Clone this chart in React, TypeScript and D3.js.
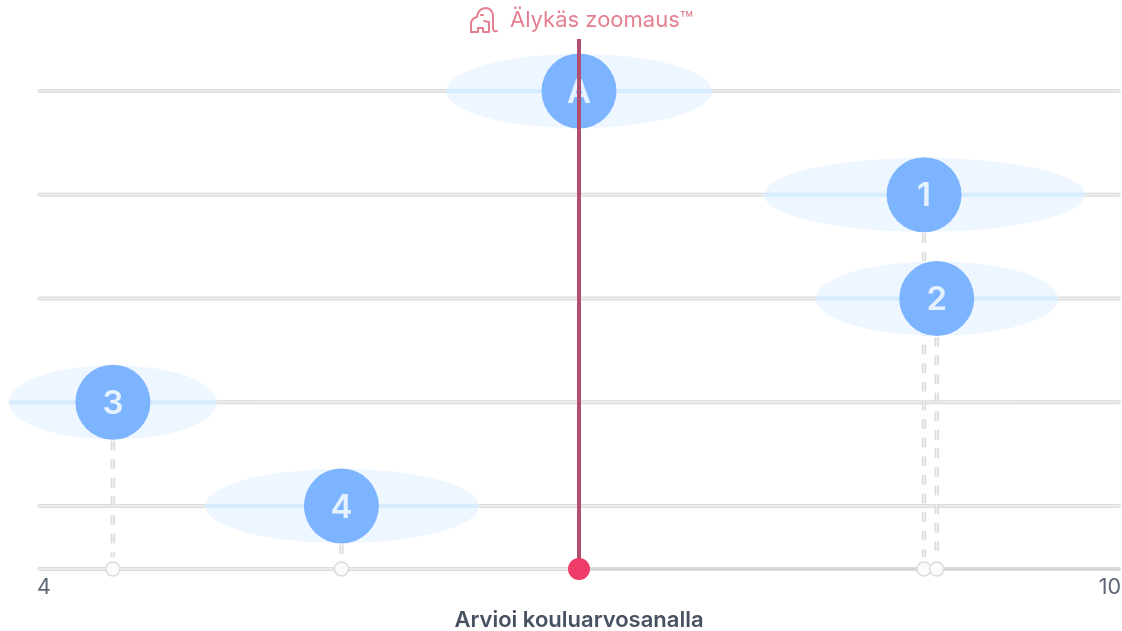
import React from "react";
import * as d3 from "d3";

const rowLabels = ["A", "1", "2", "3", "4"];
const rowValues = [7.0, 8.91, 8.98, 4.42, 5.685];
const rowLows = [6.264, 8.024, 8.312, 3.845, 4.93];
const rowHighs = [7.736, 9.8, 9.651, 4.996, 6.446];
const rowHasStem = [false, true, true, true, true];
const axisTicks = [4, 10];
const axisTitle = "Arvioi kouluarvosanalla";
const zoomLabel = "Älykäs zoomaus™";
const markerValue = 7.0;

const W = 1122, H = 631;
const FONT = "Inter, 'Noto Sans', sans-serif";

export default function App() {
  const x = d3.scaleLinear().domain([4, 10]).range([37, 1121]);
  const y = d3.scalePoint<string>().domain(rowLabels).range([91, 506]);
  const axisY = 569;
  const ry = 37;
  const r = 37.5;
  const capInset = 2;
  return (
    <svg width={W} height={H} viewBox={`0 0 ${W} ${H}`} style={{ position: "absolute", left: 0, top: 0, background: "#fff" }}>
      <defs>
        <filter id="soft" x="-5%" y="-5%" width="110%" height="110%">
          <feGaussianBlur stdDeviation="0.7" />
        </filter>
        {rowLabels.map((l, i) => (
          <clipPath key={l} id={`clip-${i}`}>
            <ellipse cx={(x(rowLows[i]) + x(rowHighs[i])) / 2} cy={y(l)!} rx={(x(rowHighs[i]) - x(rowLows[i])) / 2} ry={ry} />
          </clipPath>
        ))}
      </defs>
      <g filter="url(#soft)">
        {rowLabels.map((l) => (
          <g key={l}>
            <line x1={x(4) + capInset} x2={x(10) - capInset} y1={y(l)!} y2={y(l)!} stroke="#dcdcdc" strokeWidth={4} strokeLinecap="round" />
            <line x1={x(4)} x2={x(10)} y1={y(l)!} y2={y(l)!} stroke="#f0f0f0" strokeWidth={1.5} />
          </g>
        ))}
        <line x1={x(4) + capInset} x2={x(10) - capInset} y1={axisY} y2={axisY} stroke="#dcdcdc" strokeWidth={4} strokeLinecap="round" />
        <line x1={x(4)} x2={x(markerValue)} y1={axisY} y2={axisY} stroke="#f0f0f0" strokeWidth={1.5} />
        <line x1={x(markerValue)} x2={x(10) - capInset} y1={axisY} y2={axisY} stroke="#d6d6d6" strokeWidth={2} />

        {rowLabels.map((l, i) =>
          rowHasStem[i] ? (
            <g key={l}>
              <line x1={x(rowValues[i])} x2={x(rowValues[i])} y1={y(l)! + r + 1} y2={axisY - 12} stroke="#dcdcdc" strokeWidth={4.5} strokeDasharray="9.5 9.1" />
              <line x1={x(rowValues[i])} x2={x(rowValues[i])} y1={y(l)! + r + 1} y2={axisY - 12} stroke="#f0f0f0" strokeWidth={1.5} strokeDasharray="9.5 9.1" />
            </g>
          ) : null
        )}

        {rowLabels.map((l, i) => (
          <g key={l}>
            <ellipse cx={(x(rowLows[i]) + x(rowHighs[i])) / 2} cy={y(l)!} rx={(x(rowHighs[i]) - x(rowLows[i])) / 2} ry={ry} fill="#eef6ff" />
            <line x1={x(rowLows[i])} x2={x(rowHighs[i])} y1={y(l)!} y2={y(l)!} stroke="#d8ecff" strokeWidth={4} clipPath={`url(#clip-${i})`} />
          </g>
        ))}

        {rowLabels.map((l, i) => (
          <g key={l}>
            <circle cx={x(rowValues[i])} cy={y(l)!} r={r} fill="#7db4ff" />
            <text x={x(rowValues[i])} y={y(l)! + 11.5} textAnchor="middle" fontFamily={FONT} fontSize={33} fontWeight={600} fill="#e6f2ff">{l}</text>
          </g>
        ))}

        {rowValues.filter((_, i) => rowHasStem[i]).map((v) => (
          <circle key={v} cx={x(v)} cy={axisY} r={7} fill="#fbfbfb" stroke="#dcdcdc" strokeWidth={1.5} />
        ))}

        <line x1={x(markerValue)} x2={x(markerValue)} y1={39} y2={axisY} stroke="#b0506f" strokeWidth={4} />
        <circle cx={x(markerValue)} cy={axisY} r={11} fill="#ee3a67" />

        <g fill="none" stroke="#e58090" strokeWidth={2} strokeLinejoin="round" strokeLinecap="round">
          <path d="M471 32 L471 23 Q472 18 477 17 Q478 9 485 8 Q492 8 493 15 L493 28 Q493 32 497 31" />
          <path d="M471 32 L478 32 L478 28 L483 28 L483 32 L489 32 L489 22 L484 21" />
          <path d="M481 15 L483 15" />
        </g>
        <text x={510} y={27} fontFamily={FONT} fontSize={22} fill="#e58090">{zoomLabel}</text>

        {axisTicks.map((t, i) => (
          <text key={t} x={x(t)} y={594} textAnchor={i === 0 ? "start" : "end"} fontFamily={FONT} fontSize={21.5} fill="#5c6675">{t}</text>
        ))}
        <text x={579} y={627} textAnchor="middle" fontFamily={FONT} fontSize={22} fontWeight={600} fill="#465162">{axisTitle}</text>
      </g>
    </svg>
  );
}
